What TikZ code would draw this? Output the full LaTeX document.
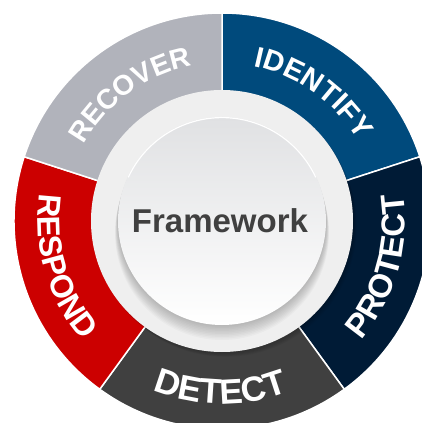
\documentclass[tikz,border=0pt]{standalone}
\usepackage{fontspec}
\setmainfont{Liberation Sans}
\usepackage{tikz}
\usetikzlibrary{decorations.text}

\definecolor{identifyC}{HTML}{004A7C}
\definecolor{protectC}{HTML}{001B36}
\definecolor{detectC}{HTML}{404040}
\definecolor{respondC}{HTML}{CC0000}
\definecolor{recoverC}{HTML}{B1B3BB}
\definecolor{buttonC}{HTML}{EFEFEF}
\definecolor{discTop}{HTML}{E0E1E3}
\definecolor{fwText}{HTML}{404040}

\begin{document}
\begin{tikzpicture}[x=1pt,y=1pt]
	\tikzset{segment/.style = {draw=white, line width=1.5pt}}
	\tikzset{outlabel/.style 2 args = {decorate, decoration={text along path,
				text={|\bfseries\fontsize{#2}{#2}\selectfont|#1},
				text align=center, text color=white}}}
	\tikzset{inlabel/.style 2 args = {outlabel={#1}{#2}}}
	\tikzset{center/.style = {font=\bfseries\fontsize{33}{33}\selectfont,
			text=fwText, inner sep=0pt}}
	
	\useasboundingbox (-222,-202) rectangle (200,221);
	\coordinate (o) at (0,0);
	
	% segments
	\draw[segment, fill=identifyC] (o) -- (18:208) arc[start angle=18, end angle=90, radius=208] -- cycle;
	\draw[segment, fill=protectC] (o) -- (-54:208) arc[start angle=-54, end angle=18, radius=208] -- cycle;
	\draw[segment, fill=detectC] (o) -- (-126:208) arc[start angle=-126, end angle=-54, radius=208] -- cycle;
	\draw[segment, fill=respondC] (o) -- (162:208) arc[start angle=162, end angle=234, radius=208] -- cycle;
	\draw[segment, fill=recoverC] (o) -- (90:208) arc[start angle=90, end angle=162, radius=208] -- cycle;
	
	% labels
	\path[outlabel={IDENTIFY}{29}] (90:158) arc[start angle=90, end angle=19, radius=158];
	\path[outlabel={RECOVER}{28}] (161:158) arc[start angle=161, end angle=91, radius=158];
	\path[inlabel={PROTECT}{33}] (-51:183) arc[start angle=-51, end angle=19, radius=183];
	\path[inlabel={DETECT}{35}] (-126:183) arc[start angle=-126, end angle=-55, radius=183];
	\path[inlabel={RESPOND}{32}] (161:184) arc[start angle=161, end angle=231, radius=184];
	
	% button
	\foreach \i in {1,...,6}
		\fill[black, opacity=0.035] (0.6*\i,-0.8*\i) circle (131);
	\fill[buttonC] (o) circle (131);
	\foreach \i in {1,...,10}
		\fill[black, opacity=0.025] (0,-1.2*\i) circle (104+0.3*\i);
	\shade[top color=discTop, bottom color=white] (o) circle (104);
	\draw[white, line width=1.2pt] (155:103.4) arc[start angle=155, end angle=25, radius=103.4];
	
	\node[center] (fw) at (-2,0) {Framework};
	
\end{tikzpicture}
\end{document}
